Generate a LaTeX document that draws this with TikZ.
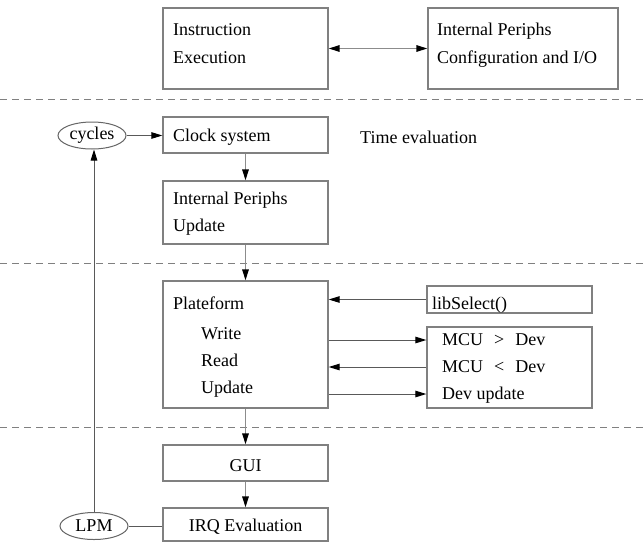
\documentclass[tikz,border=0pt]{standalone}
\usepackage{fontspec}
\setmainfont{Liberation Serif}
\usetikzlibrary{arrows.meta,shapes.geometric}
\begin{document}
\begin{tikzpicture}[x=1pt,y=-1pt,
  font=\fontsize{18}{22}\selectfont,
  >={Triangle[length=11pt,width=6.5pt,color=black]},
  box/.style={draw=black!50,line width=1.3pt,rectangle,inner sep=0pt},
  oval/.style={draw=black!60,line width=1pt,ellipse,inner sep=0pt,
    minimum width=68pt,minimum height=27pt,text=black},
  txt/.style={anchor=base west,inner sep=0pt,text=black},
  flow/.style={draw=black!45,line width=1.6pt},
  link/.style={draw=black!65,line width=1pt},
  sep/.style={draw=black!50,line width=0.9pt,dash pattern=on 7pt off 5pt}]
\useasboundingbox (0,0) rectangle (644,544);

% layer separators
\draw[sep] (0,99) -- (644,99);
\draw[sep] (0,263) -- (644,263);
\draw[sep] (0,427) -- (644,427);

% boxes
\node[box,minimum width=165pt,minimum height=81pt]  (instr) at (245.5,48.5) {};
\node[box,minimum width=190pt,minimum height=81pt]  (conf)  at (523,48.5) {};
\node[box,minimum width=165pt,minimum height=36pt]  (clock) at (245.5,135) {};
\node[box,minimum width=165pt,minimum height=63pt]  (ipu)   at (245.5,212.5) {};
\node[box,minimum width=165pt,minimum height=127pt] (plat)  at (245.5,344.5) {};
\node[box,minimum width=165pt,minimum height=27pt]  (lib)   at (509.5,299.5) {};
\node[box,minimum width=165pt,minimum height=81pt]  (mcu)   at (509.5,367.5) {};
\node[box,minimum width=165pt,minimum height=36pt]  (gui)   at (245.5,463) {};
\node[box,minimum width=165pt,minimum height=33pt]  (irq)   at (245.5,524.5) {};

% ovals
\node[oval] (cycles) at (92,135.5) {cycles};
\node[oval] (lpm)    at (94,526) {LPM};

% box texts
\node[txt] (instr-a) at (173,35) {Instruction};
\node[txt] (instr-b) at (173,63) {Execution};
\node[txt] (conf-a)  at (437,35) {Internal Periphs};
\node[txt] (conf-b)  at (437,63) {Configuration and I/O};
\node[txt] (clock-a) at (173,141) {Clock system};
\node[txt] (time)    at (360,143) {Time evaluation};
\node[txt] (ipu-a)   at (173,204) {Internal Periphs};
\node[txt] (ipu-b)   at (173,231) {Update};
\node[txt] (plat-a)  at (173,309) {Plateform};
\node[txt] (plat-w)  at (201,339) {Write};
\node[txt] (plat-r)  at (201,366) {Read};
\node[txt] (plat-u)  at (201,393) {Update};
\node[txt] (lib-a)   at (432,309) {libSelect()};
\node[txt] (mcu-w)   at (442,345) {MCU\hspace{11pt}>\hspace{11pt}Dev};
\node[txt] (mcu-r)   at (442,372) {MCU\hspace{11pt}<\hspace{11pt}Dev};
\node[txt] (mcu-u)   at (442,399) {Dev update};
\node[anchor=center,inner sep=0pt,text=black] (gui-a) at (245.5,466) {GUI};
\node[anchor=center,inner sep=0pt,text=black] (irq-a) at (245.5,527) {IRQ Evaluation};

% connectors
\draw[flow,<->] (instr.east) -- (conf.west);
\draw[link,->] (cycles.east) -- (clock.west |- cycles.east);
\draw[flow,->] (clock.south) -- (ipu.north);
\draw[flow,->] (ipu.south) -- (plat.north);
\draw[flow,->] (plat.south) -- (gui.north);
\draw[flow,->] (gui.south) -- (irq.north);
\draw[link,->] (lib.west) -- (plat.east |- lib.west);
\draw[link,->] (plat.east |- 0,340) -- (mcu.west |- 0,340);
\draw[link,->] (mcu.west |- 0,367) -- (plat.east |- 0,367);
\draw[link,->] (plat.east |- 0,394) -- (mcu.west |- 0,394);
\draw[link] (lpm.east) -- (irq.west |- lpm.east);
\draw[link,->] (lpm.north) -- (lpm.north |- cycles.south);
\end{tikzpicture}
\end{document}
